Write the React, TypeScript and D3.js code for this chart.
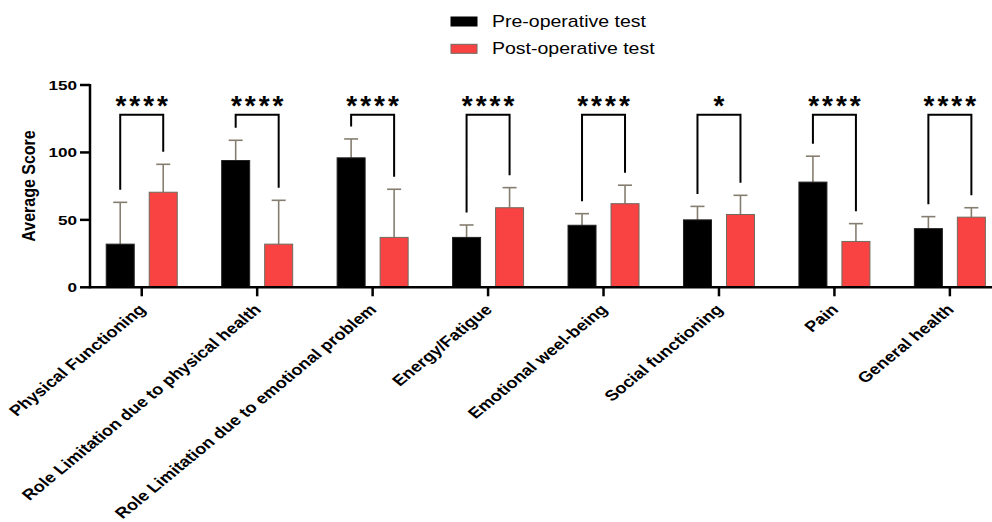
import React from "react";
import * as d3 from "d3";

const categories = [
  "Physical Functioning",
  "Role Limitation due to physical health",
  "Role Limitation due to emotional problem",
  "Energy/Fatigue",
  "Emotional weel-being",
  "Social functioning",
  "Pain",
  "General health",
];
const preMean = [32, 94, 96, 37, 46, 50, 78, 43.5];
const preSD = [31, 15, 14, 9.2, 8.6, 10, 19.2, 8.9];
const postMean = [70.5, 32, 37, 59, 62, 54, 34, 52];
const postSD = [20.7, 32.5, 35.7, 14.9, 13.7, 14.2, 13.2, 7];
const significance = ["****", "****", "****", "****", "****", "*", "****", "****"];
const yTicks = [0, 50, 100, 150];
const seriesNames = ["Pre-operative test", "Post-operative test"];
const bracketTop = 128;

const W = 992;
const H = 522;
const FONT = "'Liberation Sans', Arial, sans-serif";
const colors = ["#000000", "#F94242"];
const outline = "#6f6a5e";
const errColor = "#857d70";
const SX = 1.22;

export default function App() {
  const x = d3.scaleBand<string>().domain(categories).range([84, 84 + 8 * 115.45]).padding(0);
  const x1 = d3.scaleBand<string>().domain(["pre", "post"]).range([-35.5, 35.5]).paddingInner(15 / 43);
  const y = d3.scaleLinear().domain([0, 150]).range([287.3, 85]);
  const cx = (c: string) => (x(c) as number) + x.bandwidth() / 2;
  const bw = x1.bandwidth();
  const axisX = 90;
  const y0 = y(0);

  return (
    <svg width={W} height={H} style={{ position: "absolute", left: 0, top: 0, background: "#fff" }} fontFamily={FONT}>
      {/* legend */}
      {seriesNames.map((s, i) => (
        <g key={s}>
          <rect x={451} y={17 + i * 27.3} width={26} height={9} fill={colors[i]} stroke={i === 0 ? "#000" : outline} strokeWidth={1} />
          <text transform={`translate(492,${27 + i * 26.7}) scale(${SX},1)`} fontSize={16} fill="#000">{s}</text>
        </g>
      ))}

      {/* bars */}
      {categories.map((c, i) => {
        const groups = [
          { k: "pre", m: preMean[i], sd: preSD[i], col: colors[0] },
          { k: "post", m: postMean[i], sd: postSD[i], col: colors[1] },
        ];
        return (
          <g key={c}>
            {groups.map((g) => {
              const bx = cx(c) + (x1(g.k) as number);
              const mx = bx + bw / 2;
              return (
                <g key={g.k}>
                  <line x1={mx} x2={mx} y1={y(g.m)} y2={y(g.m + g.sd)} stroke={errColor} strokeWidth={1.6} />
                  <line x1={mx - 7} x2={mx + 7} y1={y(g.m + g.sd)} y2={y(g.m + g.sd)} stroke={errColor} strokeWidth={1.6} />
                  <rect x={bx} y={y(g.m)} width={bw} height={y0 - y(g.m)} fill={g.col} stroke={g.k === "pre" ? "#222" : outline} strokeWidth={1} />
                </g>
              );
            })}
          </g>
        );
      })}

      {/* brackets */}
      {categories.map((c, i) => {
        const lx = cx(c) + (x1("pre") as number) + bw / 2;
        const rx = cx(c) + (x1("post") as number) + bw / 2;
        const ty = y(bracketTop);
        const lb = y(preMean[i] + preSD[i]) - 12.5;
        const rb = y(postMean[i] + postSD[i]) - 12.5;
        return (
          <g key={"b" + c}>
            <path d={`M${lx},${lb}V${ty}H${rx}V${rb}`} fill="none" stroke="#000" strokeWidth={2} />
            <text x={(lx + rx) / 2 + 1.5} y={115} textAnchor="middle" fontSize={28} fontWeight="bold" letterSpacing={3} fill="#000">
              {significance[i]}
            </text>
          </g>
        );
      })}

      {/* axes */}
      <line x1={axisX} x2={W} y1={y0} y2={y0} stroke="#000" strokeWidth={2.5} />
      <line x1={axisX} x2={axisX} y1={y(150) - 1} y2={y0 + 1} stroke="#000" strokeWidth={2.5} />
      {yTicks.map((t) => (
        <g key={t}>
          <line x1={axisX - 10} x2={axisX} y1={y(t)} y2={y(t)} stroke="#000" strokeWidth={2.5} />
          <text transform={`translate(77,${y(t)}) scale(1.27,1)`} dy="0.36em" textAnchor="end" fontSize={13.5} fontWeight="bold">{t}</text>
        </g>
      ))}
      {categories.map((c) => (
        <g key={"t" + c}>
          <line x1={cx(c)} x2={cx(c)} y1={y0} y2={y0 + 9} stroke="#000" strokeWidth={2.5} />
          <text transform={`translate(${cx(c) + 5},${310.5}) scale(${SX},1) rotate(-45)`} textAnchor="end" fontSize={15} fontWeight="bold">{c}</text>
        </g>
      ))}
      <text transform="translate(35,186) scale(1.1,1) rotate(-90)" textAnchor="middle" fontSize={16} fontWeight="bold">Average Score</text>
    </svg>
  );
}
